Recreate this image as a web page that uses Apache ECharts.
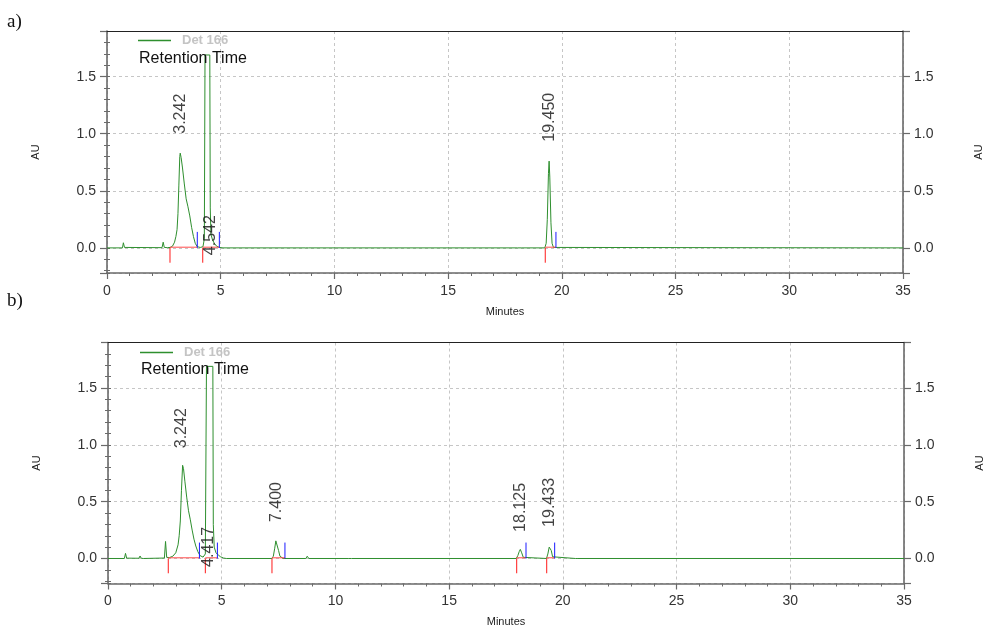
<!DOCTYPE html>
<html><head><meta charset="utf-8">
<script src="https://cdn.jsdelivr.net/npm/echarts@6/dist/echarts.min.js"></script>
<style>html,body{margin:0;padding:0;background:#fff}#c{width:986px;height:625px}</style>
</head><body><div id="c"></div>
<script>
// ---------- data ----------
const seriesName = 'Det 166';
const xTickValues = [0, 5, 10, 15, 20, 25, 30, 35];
const yTickLabels = ['0.0', '0.5', '1.0', '1.5'];
const yRange = [-0.22, 1.9];

// Panel a) chromatogram (minutes, AU)
const timesA = [0, 0.68, 0.72, 0.77, 0.85, 2.42, 2.47, 2.52, 2.65, 2.78, 2.88, 2.97, 3.03, 3.08, 3.12, 3.16, 3.2, 3.22, 3.26, 3.32, 3.4, 3.48, 3.56, 3.64, 3.72, 3.8, 3.88, 3.97, 4.1, 4.22, 4.28, 4.31, 4.52, 4.54, 4.57, 4.64, 4.72, 4.82, 4.94, 5.1, 8.72, 8.78, 8.85, 18.05, 18.13, 18.21, 19.25, 19.31, 19.36, 19.41, 19.44, 19.47, 19.52, 19.57, 19.63, 19.7, 35];
const auA    = [0, 0, 0.045, 0.004, 0, 0.002, 0.05, 0.004, 0.002, 0.004, 0.015, 0.05, 0.1, 0.16, 0.3, 0.55, 0.8, 0.83, 0.79, 0.7, 0.56, 0.43, 0.36, 0.28, 0.18, 0.1, 0.04, 0.01, 0.004, 0.01, 0.08, 1.69, 1.69, 0.35, 0.12, 0.07, 0.04, 0.015, 0.004, 0, 0, 0.01, 0, 0, 0.012, 0, 0, 0.04, 0.25, 0.65, 0.76, 0.62, 0.22, 0.04, 0.004, 0, 0];
const peakRTA = ['3.242', '4.542', '19.450'];
const peakLabelBaseA = [1.0, -0.064, 0.93];
const peakStartA = [2.77, 4.21, 19.27];
const peakEndA   = [3.97, 4.94, 19.74];

// Panel b) chromatogram (minutes, AU)
const timesB = [0, 0.72, 0.77, 0.82, 0.9, 1.36, 1.41, 1.46, 1.55, 2.48, 2.53, 2.58, 2.7, 2.85, 2.98, 3.08, 3.13, 3.18, 3.23, 3.28, 3.32, 3.38, 3.46, 3.54, 3.62, 3.7, 3.78, 3.86, 3.95, 4.05, 4.18, 4.28, 4.33, 4.61, 4.63, 4.67, 4.75, 4.85, 4.95, 5.08, 5.2, 7.2, 7.27, 7.33, 7.38, 7.41, 7.45, 7.5, 7.56, 7.63, 7.7, 8.7, 8.76, 8.83, 10.58, 10.64, 10.7, 17.95, 18.02, 18.08, 18.13, 18.19, 18.26, 18.33, 19.28, 19.34, 19.4, 19.44, 19.49, 19.55, 19.62, 20.55, 20.6, 20.66, 35];
const auB    = [0, 0, 0.045, 0.003, 0, 0.002, 0.022, 0.002, 0, 0.004, 0.15, 0.01, 0.008, 0.02, 0.05, 0.12, 0.2, 0.33, 0.6, 0.82, 0.79, 0.68, 0.54, 0.42, 0.34, 0.25, 0.17, 0.11, 0.06, 0.025, 0.012, 0.04, 1.69, 1.69, 0.3, 0.1, 0.05, 0.03, 0.015, 0.004, 0, 0, 0.02, 0.09, 0.155, 0.167, 0.14, 0.07, 0.02, 0.003, 0, 0, 0.02, 0, 0, 0.01, 0, 0, 0.025, 0.06, 0.08, 0.05, 0.01, 0, 0, 0.04, 0.1, 0.117, 0.07, 0.015, 0, 0, 0.012, 0, 0];
const peakRTB = ['3.242', '4.417', '7.400', '18.125', '19.433'];
const peakLabelBaseB = [0.97, -0.074, 0.32, 0.234, 0.278];
const peakStartB = [2.65, 4.28, 7.21, 17.97, 19.29];
const peakEndB   = [4.02, 4.81, 7.78, 18.38, 19.64];

// marker heights (AU)
const startTickDepth = -0.13;
const endTickHeight = 0.14;
const baselineLevel = 0.006;

// ---------- styles ----------
const GREEN = '#2e8f2e';
const AXIS = '#6a6a6a';
const FONT = 'Liberation Sans, Arial, sans-serif';
const grids = [
  {left: 107, top: 31, width: 796, height: 242},
  {left: 108, top: 342.5, width: 796, height: 241}
];

function zip(a, b) { return a.map((v, i) => [v, b[i]]); }

function xAxisFor(gi) {
  return {
    type: 'value', gridIndex: gi, position: 'bottom', min: xTickValues[0], max: xTickValues[xTickValues.length - 1],
    interval: xTickValues[1] - xTickValues[0],
    axisLine: {onZero: false, lineStyle: {color: AXIS, width: 1.6}},
    axisTick: {length: 6, lineStyle: {color: AXIS, width: 1.2}},
    minorTick: {show: true, splitNumber: 5, length: 3, lineStyle: {color: AXIS}},
    axisLabel: {margin: 11, fontSize: 14, color: '#333', fontFamily: FONT},
    splitLine: {show: true, lineStyle: {color: '#c6c6c6', type: [3, 3], width: 1}},
    name: 'Minutes', nameLocation: 'middle', nameGap: 33,
    nameTextStyle: {fontSize: 11, color: '#222', fontFamily: FONT}
  };
}
function xTopFor(gi) {
  return {
    type: 'value', gridIndex: gi, position: 'top', z: 6, min: xTickValues[0], max: xTickValues[xTickValues.length - 1],
    axisLine: {show: true, onZero: false, lineStyle: {color: '#222', width: 1}},
    axisTick: {show: false}, axisLabel: {show: false}, splitLine: {show: false}
  };
}
function yMajor(gi, pos) {
  return {
    type: 'value', gridIndex: gi, position: pos, min: yRange[0], max: yRange[1], splitNumber: 5,
    axisLine: {show: true, onZero: false, lineStyle: {color: AXIS, width: 1.6}},
    axisTick: {show: true, length: 7, lineStyle: {color: AXIS, width: 1.2}},
    axisLabel: {show: true, margin: 11, fontSize: 14, color: '#333', fontFamily: FONT,
      formatter: v => { const s = (Math.round(v * 10) / 10).toFixed(1); return (yTickLabels.indexOf(s) >= 0 && Math.abs(v * 2 - Math.round(v * 2)) < 1e-6) ? s : ''; }},
    splitLine: pos === 'left' ? {show: true, lineStyle: {color: '#c6c6c6', type: [3, 3], width: 1}} : {show: false},
    name: 'AU', nameLocation: 'middle', nameGap: pos === 'left' ? 66 : 70, nameRotate: 90,
    nameTextStyle: {fontSize: 11, color: '#222', fontFamily: FONT}
  };
}
function yMinor(gi, pos) {
  return {
    type: 'value', gridIndex: gi, position: pos, min: yRange[0], max: yRange[1], splitNumber: 21,
    axisLine: {show: false}, axisTick: {show: true, length: 3, lineStyle: {color: AXIS}},
    axisLabel: {show: false}, splitLine: {show: false}
  };
}

// event marks drawn as broken polylines (null = gap)
function markerSeries(gi, starts, ends, kind) {
  const data = [];
  let color;
  if (kind === 'base') {
    color = '#ff4a4a';
    starts.forEach((s, i) => { data.push([s, baselineLevel], [ends[i], baselineLevel], null); });
  } else if (kind === 'start') {
    color = '#ff1a1a';
    starts.forEach(s => { data.push([s, 0], [s, startTickDepth], null); });
  } else {
    color = '#1a1aff';
    ends.forEach(e => { data.push([e, 0], [e, endTickHeight], null); });
  }
  return {
    type: 'line', name: 'evt-' + kind + gi, xAxisIndex: gi, yAxisIndex: gi * 4,
    data: data, connectNulls: false, showSymbol: false, symbol: 'none', silent: true, animation: false,
    z: 4, lineStyle: {color: color, width: 1, type: 'solid'}, itemStyle: {color: color}
  };
}

function traceSeries(gi, times, au) {
  return {
    type: 'line', name: seriesName, xAxisIndex: gi, yAxisIndex: gi * 4,
    data: zip(times, au), showSymbol: false, symbol: 'none',
    lineStyle: {color: GREEN, width: 1}, itemStyle: {color: GREEN},
    animation: false, z: 3
  };
}
function labelSeries(gi, rts, bases) {
  return {
    type: 'scatter', name: 'labels' + gi, xAxisIndex: gi, yAxisIndex: gi * 4,
    symbolSize: 0, animation: false, z: 5, silent: true,
    data: rts.map((r, i) => [parseFloat(r), bases[i], r]),
    label: {show: true, position: 'inside', rotate: 90, align: 'left', verticalAlign: 'middle',
      formatter: p => p.data[2], fontSize: 16, color: '#111', fontFamily: FONT}
  };
}

const option = {
  backgroundColor: '#fff',
  animation: false,
  grid: grids.map(g => Object.assign({show: false, outerBoundsMode: 'none', containLabel: false}, g)),
  title: [
    {text: 'a)', left: 7, top: 13, padding: 0, textStyle: {fontFamily: 'Liberation Serif, DejaVu Serif, serif', fontSize: 19, fontWeight: 'normal', color: '#111'}},
    {text: 'b)', left: 7, top: 292, padding: 0, textStyle: {fontFamily: 'Liberation Serif, DejaVu Serif, serif', fontSize: 19, fontWeight: 'normal', color: '#111'}},
    {text: 'Retention Time', left: 139, top: 51, padding: 0, textStyle: {fontFamily: FONT, fontSize: 16, fontWeight: 'normal', color: '#111'}},
    {text: 'Retention Time', left: 141, top: 362, padding: 0, textStyle: {fontFamily: FONT, fontSize: 16, fontWeight: 'normal', color: '#111'}}
  ],
  legend: [
    {data: [seriesName], left: 138, top: 34, padding: 0, icon: 'rect', itemWidth: 33, itemHeight: 1.3,
      selectedMode: false, textStyle: {color: '#c4c4c4', fontWeight: 'bold', fontSize: 13, fontFamily: FONT, padding: [0, 0, 0, 6]}},
    {data: [seriesName], left: 140, top: 346, padding: 0, icon: 'rect', itemWidth: 33, itemHeight: 1.3,
      selectedMode: false, textStyle: {color: '#c4c4c4', fontWeight: 'bold', fontSize: 13, fontFamily: FONT, padding: [0, 0, 0, 6]}}
  ],
  xAxis: [xAxisFor(0), xAxisFor(1), xTopFor(0), xTopFor(1)],
  yAxis: [yMajor(0, 'left'), yMinor(0, 'left'), yMajor(0, 'right'), yMinor(0, 'right'),
          yMajor(1, 'left'), yMinor(1, 'left'), yMajor(1, 'right'), yMinor(1, 'right')],
  series: [
    traceSeries(0, timesA, auA),
    traceSeries(1, timesB, auB),
    markerSeries(0, peakStartA, peakEndA, 'base'),
    markerSeries(0, peakStartA, peakEndA, 'start'),
    markerSeries(0, peakStartA, peakEndA, 'end'),
    markerSeries(1, peakStartB, peakEndB, 'base'),
    markerSeries(1, peakStartB, peakEndB, 'start'),
    markerSeries(1, peakStartB, peakEndB, 'end'),
    labelSeries(0, peakRTA, peakLabelBaseA),
    labelSeries(1, peakRTB, peakLabelBaseB)
  ]
};
const chart = echarts.init(document.getElementById('c'), null, {renderer: 'canvas'});
chart.setOption(option);
</script></body></html>
